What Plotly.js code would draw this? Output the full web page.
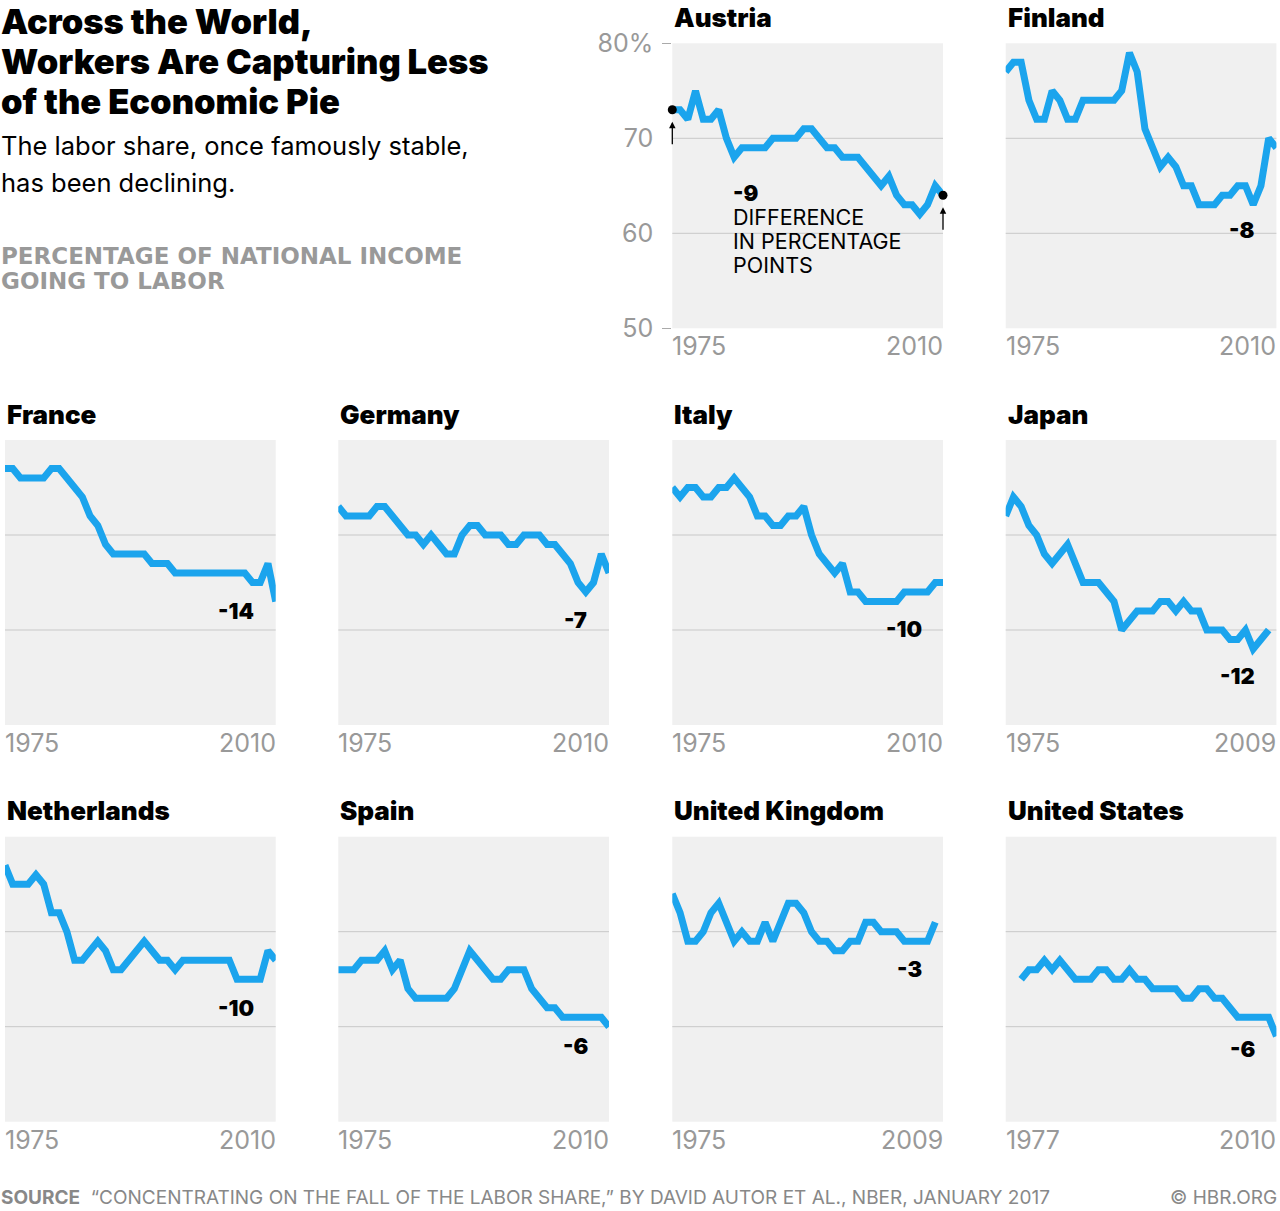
<!DOCTYPE html>
<html>
<head>
<meta charset="utf-8">
<script src="https://cdn.plot.ly/plotly-3.0.1.min.js"></script>
<style>
html,body{margin:0;padding:0;background:#ffffff;}
#chart{width:1280px;height:1211px;}
</style>
</head>
<body>
<div id="chart"></div>
<script>
// ---------------- DATA ----------------
const countries = ['Austria','Finland','France','Germany','Italy','Japan','Netherlands','Spain','United Kingdom','United States'];
const startYears = [1975,1975,1975,1975,1975,1975,1975,1975,1975,1977];
const endYears   = [2010,2010,2010,2010,2010,2009,2010,2010,2009,2010];

const austria     = [73,73,72,75,72,72,73,70,68,69,69,69,69,70,70,70,70,71,71,70,69,69,68,68,68,67,66,65,66,64,63,63,62,63,65,64];
const finland     = [77,78,78,74,72,72,75,74,72,72,74,74,74,74,74,75,79,77,71,69,67,68,67,65,65,63,63,63,64,64,65,65,63,65,70,69];
const france      = [77,77,76,76,76,76,77,77,76,75,74,72,71,69,68,68,68,68,68,67,67,67,66,66,66,66,66,66,66,66,66,66,65,65,67,63];
const germany     = [73,72,72,72,72,73,73,72,71,70,70,69,70,69,68,68,70,71,71,70,70,70,69,69,70,70,70,69,69,68,67,65,64,65,68,66];
const italy       = [75,74,75,75,74,74,75,75,76,75,74,72,72,71,71,72,72,73,70,68,67,66,67,64,64,63,63,63,63,63,64,64,64,64,65,65];
const japan       = [72,74,73,71,70,68,67,68,69,67,65,65,65,64,63,60,61,62,62,62,63,63,62,63,62,62,60,60,60,59,59,60,58,59,60];
const netherlands = [77,75,75,75,76,75,72,72,70,67,67,68,69,68,66,66,67,68,69,68,67,67,66,67,67,67,67,67,67,67,65,65,65,65,68,67];
const spain       = [66,66,66,67,67,67,68,66,67,64,63,63,63,63,63,64,66,68,67,66,65,65,66,66,66,64,63,62,62,61,61,61,61,61,61,60];
const uk          = [74,72,69,69,70,72,73,71,69,70,69,69,71,69,71,73,73,72,70,69,69,68,68,69,69,71,71,70,70,70,69,69,69,69,71];
const us          = [65,66,66,67,66,67,66,65,65,65,66,66,65,65,66,65,65,64,64,64,64,63,63,64,64,63,63,62,61,61,61,61,61,59];

const seriesValues = [austria, finland, france, germany, italy, japan, netherlands, spain, uk, us];
const diffLabels = ['-9','-8','-14','-7','-10','-12','-10','-6','-3','-6'];
const diffNote = ['DIFFERENCE','IN PERCENTAGE','POINTS'];

const yTickVals = [50,60,70,80];
const yTickText = ['50','60','70','80%'];
const gridVals = [60,70];
const xRange = [1975,2010];
const yRange = [50,80];

// ---------------- LAYOUT CONFIG ----------------
const W = 1280, H = 1211;
const colLeft = [5, 338.3, 672.3, 1005.7];
const panelW = 270.7;
const rowTop = [43.3, 440, 836.7];
const panelH = 285;
const slots = [[0,2],[0,3],[1,0],[1,1],[1,2],[1,3],[2,0],[2,1],[2,2],[2,3]];
// diff label anchor (right edge year, vertical centre value); Austria's block is left-anchored
const diffPos = [[1982.6,60.42],[2007.4,60.35],[2007.4,62.05],[2007.4,61.1],[2007.5,60.15],[2007.5,55.2],[2007.4,62.0],[2007.5,58.0],[2007.5,66.1],[2007.5,57.7]];

const BLUE = '#1ba4ed';
const GRAY = '#999999';
const HEAD = 'Inter, Lato, sans-serif';
const BODY = 'Inter, Lato, sans-serif';

const px = v => v / W;
const py = v => 1 - v / H;

const traces = [];
const layout = {
  width: W, height: H,
  margin: {l:0, r:0, t:0, b:0},
  paper_bgcolor: '#ffffff',
  plot_bgcolor: '#f0f0f0',
  showlegend: false,
  font: {family: BODY, color: '#000'},
  annotations: [],
  shapes: []
};

seriesValues.forEach((vals, i) => {
  const n = i + 1;
  const xa = n === 1 ? 'x' : 'x' + n;
  const ya = n === 1 ? 'y' : 'y' + n;
  const xKey = n === 1 ? 'xaxis' : 'xaxis' + n;
  const yKey = n === 1 ? 'yaxis' : 'yaxis' + n;
  const [r, c] = slots[i];
  const left = colLeft[c], top = rowTop[r];

  const years = vals.map((_, k) => startYears[i] + k);
  traces.push({
    type: 'scatter', mode: 'lines', x: years, y: vals,
    xaxis: xa, yaxis: ya,
    line: {color: BLUE, width: 7, shape: 'linear'},
    hoverinfo: 'skip'
  });

  layout[xKey] = {
    domain: [px(left), px(left + panelW)],
    range: xRange, anchor: ya,
    showgrid: false, zeroline: false, showline: false,
    showticklabels: false, ticks: '', fixedrange: true
  };
  layout[yKey] = {
    domain: [py(top + panelH), py(top)],
    range: yRange, anchor: xa,
    showgrid: false, zeroline: false, showline: false,
    showticklabels: false, ticks: '', fixedrange: true
  };

  gridVals.forEach(g => {
    layout.shapes.push({
      type: 'line', layer: 'below',
      xref: xa + ' domain', x0: 0, x1: 1,
      yref: ya, y0: g, y1: g,
      line: {color: '#c8c8c8', width: 1}
    });
  });

  // country title
  layout.annotations.push({
    xref: 'paper', yref: 'paper',
    x: px(left), y: py(top - 26),
    xanchor: 'left', yanchor: 'middle',
    text: countries[i], showarrow: false,
    font: {family: HEAD, size: 26, weight: 900, color: '#000'}
  });

  // x tick labels (first/last year)
  layout.annotations.push({
    xref: xa + ' domain', yref: ya + ' domain', x: 0, y: 0,
    xanchor: 'left', yanchor: 'middle', yshift: -18, xshift: -2,
    text: String(startYears[i]), showarrow: false,
    font: {family: BODY, size: 25, weight: 400, color: GRAY}
  });
  layout.annotations.push({
    xref: xa + ' domain', yref: ya + ' domain', x: 1, y: 0,
    xanchor: 'right', yanchor: 'middle', yshift: -18, xshift: 2,
    text: String(endYears[i]), showarrow: false,
    font: {family: BODY, size: 25, weight: 400, color: GRAY}
  });

  // difference label
  if (i === 0) {
    const big = s => '<span style="font-size:21.5px">' + s + '</span>';
    layout.annotations.push({
      xref: xa, yref: ya, x: diffPos[i][0], y: diffPos[i][1],
      xanchor: 'left', yanchor: 'middle', align: 'left',
      text: '<span style="font-size:22px;font-weight:900">' + diffLabels[i] + '</span><br>' + diffNote.map(big).join('<br>'),
      showarrow: false,
      font: {family: BODY, size: 18.5, color: '#000'}
    });
  } else {
    layout.annotations.push({
      xref: xa, yref: ya, x: diffPos[i][0], y: diffPos[i][1],
      xanchor: 'right', yanchor: 'middle',
      text: diffLabels[i], showarrow: false,
      font: {family: HEAD, size: 22, weight: 900, color: '#000'}
    });
  }
});

// Austria: y-axis labels and edge ticks
Object.assign(layout.yaxis, {
  showticklabels: true,
  tickmode: 'array', tickvals: yTickVals, ticktext: yTickText,
  ticklabelstandoff: 18,
  tickfont: {family: BODY, size: 25, weight: 400, color: GRAY},
  minor: {tickmode: 'array', tickvals: [yRange[0], yRange[1]], ticks: 'outside', ticklen: 9, tickwidth: 1, tickcolor: '#aaaaaa', showgrid: false}
});

// Austria: endpoint dots and arrows
const aEndYear = startYears[0] + austria.length - 1;
traces.push({
  type: 'scatter', mode: 'markers',
  x: [startYears[0], aEndYear],
  y: [austria[0], austria[austria.length - 1]],
  xaxis: 'x', yaxis: 'y',
  marker: {color: '#000', size: 9},
  cliponaxis: false, hoverinfo: 'skip'
});
[[startYears[0], austria[0]], [aEndYear, austria[austria.length - 1]]].forEach(p => {
  layout.annotations.push({
    xref: 'x', yref: 'y', x: p[0], y: p[1],
    text: '', showarrow: true, ax: 0, ay: 36, standoff: 12,
    arrowhead: 2, arrowsize: 1, arrowwidth: 1.3, arrowcolor: '#000'
  });
});

// Headline block
const headLines = [['Across the World,', 21.5], ['Workers Are Capturing Less', 61.5], ['of the Economic Pie', 101.5]];
headLines.forEach(h => layout.annotations.push({
  xref: 'paper', yref: 'paper', x: 0, y: py(h[1]), xanchor: 'left', yanchor: 'middle',
  text: h[0], showarrow: false, xshift: -1,
  font: {family: HEAD, size: 34.5, weight: 900, color: '#000'}
}));
const subLines = [['The labor share, once famously stable,', 146], ['has been declining.', 182]];
subLines.forEach(h => layout.annotations.push({
  xref: 'paper', yref: 'paper', x: 0, y: py(h[1]), xanchor: 'left', yanchor: 'middle',
  text: h[0], showarrow: false, xshift: -1,
  font: {family: BODY, size: 25.5, color: '#000'}
}));
const unitLines = [['PERCENTAGE OF NATIONAL INCOME', 255.5], ['GOING TO LABOR', 281.5]];
unitLines.forEach(h => layout.annotations.push({
  xref: 'paper', yref: 'paper', x: 0, y: py(h[1]), xanchor: 'left', yanchor: 'middle',
  text: h[0], showarrow: false, xshift: -1,
  font: {family: '"DejaVu Sans", sans-serif', size: 23, weight: 700, color: GRAY}
}));

// Footer
layout.annotations.push({
  xref: 'paper', yref: 'paper', x: 0, y: py(1197), xanchor: 'left', yanchor: 'middle',
  text: '<b>SOURCE</b>  “CONCENTRATING ON THE FALL OF THE LABOR SHARE,” BY DAVID AUTOR ET AL., NBER, JANUARY 2017',
  showarrow: false, xshift: -1,
  font: {family: BODY, size: 19, color: '#888888'}
});
layout.annotations.push({
  xref: 'paper', yref: 'paper', x: 1, y: py(1197), xanchor: 'right', yanchor: 'middle',
  text: '© HBR.ORG', showarrow: false, xshift: -1,
  font: {family: BODY, size: 19, color: '#888888'}
});

Plotly.newPlot('chart', traces, layout, {displayModeBar: false, staticPlot: true});
</script>
</body>
</html>
